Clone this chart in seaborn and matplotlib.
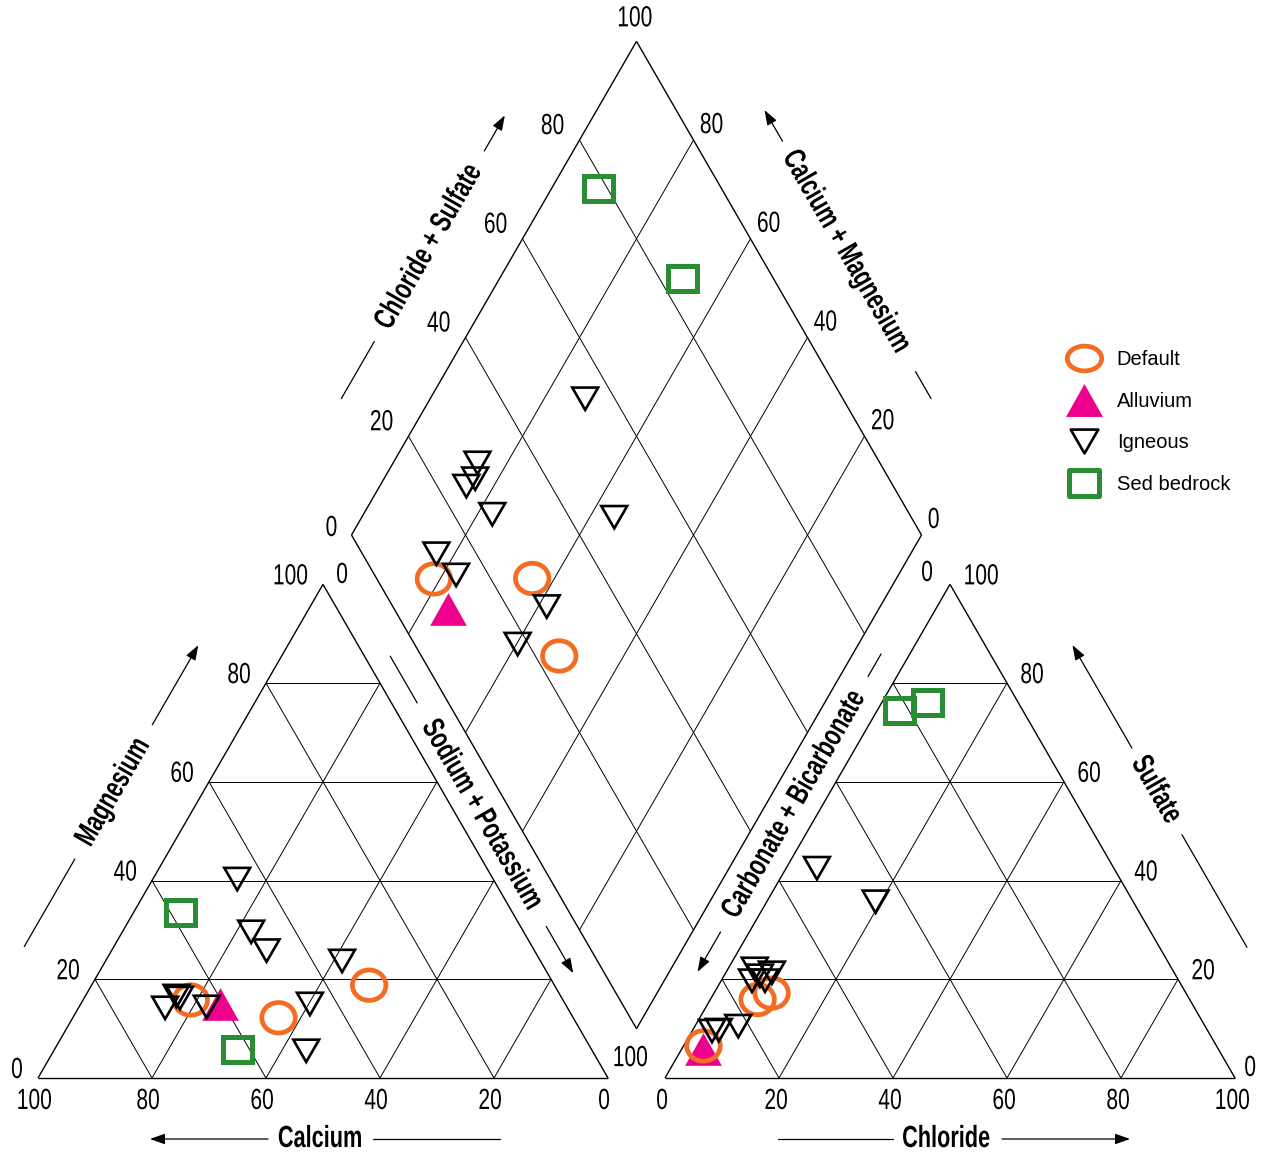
import numpy as np
import pandas as pd
import matplotlib
matplotlib.use("Agg")
import matplotlib.pyplot as plt
from matplotlib.path import Path
from matplotlib.lines import Line2D
from matplotlib.transforms import Affine2D
from matplotlib import patheffects
import seaborn as sns

# ---- water chemistry, percent of milliequivalents ----
groups = (["Default"] * 3 + ["Alluvium"] + ["Igneous"] * 10 + ["Sed bedrock"] * 2)
calcium = [65.3, 51.7, 32.5, 60.5, 47.0, 44.9, 67.4, 70.6, 47.8, 50.2, 67.0, 63.2, 34.8, 44.8, 58.2, 62.1]
magnesium = [15.8, 12.2, 18.8, 15.0, 25.8, 40.3, 16.6, 14.2, 29.6, 5.5, 16.2, 14.4, 23.7, 15.0, 33.6, 5.7]
sodium_potassium = [18.9, 36.1, 48.7, 24.5, 27.2, 14.8, 16.0, 15.2, 22.6, 44.3, 16.8, 22.4, 41.5, 40.2, 8.2, 32.2]
bicarbonate = [90.0, 72.7, 75.8, 90.5, 45.2, 70.6, 72.6, 74.9, 73.2, 52.1, 87.0, 85.7, 73.0, 81.9, 21.6, 15.9]
sulfate = [6.5, 17.2, 15.9, 5.8, 35.7, 21.3, 19.7, 19.7, 22.1, 42.5, 9.5, 9.7, 20.7, 10.5, 74.4, 76.0]
chloride = [3.5, 10.1, 8.3, 3.7, 19.1, 8.1, 7.7, 5.4, 4.7, 5.4, 3.5, 4.6, 6.3, 7.6, 4.0, 8.1]

ticks = [0, 20, 40, 60, 80, 100]
group_order = ["Alluvium", "Default", "Igneous", "Sed bedrock"]
legend_order = ["Default", "Alluvium", "Igneous", "Sed bedrock"]

# ---- style ----
sns.set_theme(style="white", context="notebook")
plt.rcParams["font.family"] = ["Liberation Sans", "DejaVu Sans"]
plt.rcParams["text.color"] = "black"

SCALE = 570.0           # pixels per triangle side
GAP = 0.1               # gap between the two triangles (side fractions)
H = np.sqrt(3) / 2
TICK_FS = 21
TITLE_FS = 22


class Squeeze(patheffects.AbstractPathEffect):
    """Draw text horizontally condensed about one of its edges or its centre."""

    def __init__(self, sx, anchor="center"):
        super().__init__()
        self.sx = sx
        self.anchor = anchor

    def draw_path(self, renderer, gc, tpath, affine, rgbFace=None):
        ext = tpath.get_extents()
        cx = {"left": ext.x0, "right": ext.x1}.get(self.anchor, 0.5 * (ext.x0 + ext.x1))
        squeeze = Affine2D().translate(-cx, 0).scale(self.sx, 1).translate(cx, 0)
        renderer.draw_path(gc, tpath, squeeze + affine, rgbFace)


fig = plt.figure(figsize=(12.61, 11.54), dpi=100)
ax = fig.add_axes([0, 0, 1, 1])
ax.set_xlim(-38 / SCALE, 1223 / SCALE)
ax.set_ylim(-76 / SCALE, 1078 / SCALE)
ax.axis("off")

# ---- geometry ----
X0R = 1 + GAP                                  # left corner of anion triangle
B = np.array([1 + GAP / 2, GAP * H])           # bottom of diamond
L = B + np.array([-0.5, H])
R = B + np.array([0.5, H])
T = B + np.array([0, 2 * H])
UP_R = np.array([0.5, H])
DN_R = np.array([0.5, -H])


def px(dx, dy):
    """Screen-pixel offset (y down) to data offset."""
    return np.array([dx, -dy]) / SCALE


def seg(p, q, lw=0.7):
    ax.plot([p[0], q[0]], [p[1], q[1]], color="black", lw=lw,
            solid_capstyle="butt", zorder=1)


# triangle outlines and grids
for x0 in (0.0, X0R):
    a, b, c = np.array([x0, 0]), np.array([x0 + 1, 0]), np.array([x0 + 0.5, H])
    for p, q in ((a, b), (b, c), (c, a)):
        seg(p, q, lw=1.0)
    for t in (0.2, 0.4, 0.6, 0.8):
        seg((x0 + t / 2, t * H), (x0 + 1 - t / 2, t * H))
        seg((x0 + t, 0), (x0 + t + (1 - t) / 2, (1 - t) * H))
        seg((x0 + 1 - t, 0), (x0 + (1 - t) / 2, (1 - t) * H))

# diamond outline and grid
for p, q in ((L, T), (T, R), (R, B), (B, L)):
    seg(p, q, lw=1.0)
for t in (0.2, 0.4, 0.6, 0.8):
    seg(L + t * UP_R, L + t * UP_R + DN_R)
    seg(L + t * DN_R, L + t * DN_R + UP_R)

# ---- sample positions ----
ca = np.array(calcium) / 100
mg = np.array(magnesium) / 100
na = np.array(sodium_potassium) / 100
so4 = np.array(sulfate) / 100
cl = np.array(chloride) / 100
anion = so4 + cl

cat_x, cat_y = na + mg / 2, mg * H
an_x, an_y = X0R + cl + so4 / 2, so4 * H
dia = L[None, :] + na[:, None] * DN_R + anion[:, None] * UP_R

frames = []
for xs, ys in ((cat_x, cat_y), (an_x, an_y), (dia[:, 0], dia[:, 1])):
    frames.append(pd.DataFrame({"x": xs, "y": ys, "group": groups}))
points = pd.concat(frames, ignore_index=True)

# ---- marker shapes ----
ellipse = Path.unit_circle().transformed(Affine2D().scale(1.0, 0.91))
ellipse_leg = Path.unit_circle().transformed(Affine2D().scale(1.0, 0.72))
rect = Path([(-1, -0.86), (1, -0.86), (1, 0.86), (-1, 0.86), (-1, -0.86)],
            [Path.MOVETO, Path.LINETO, Path.LINETO, Path.LINETO, Path.CLOSEPOLY])
rect_leg = Path([(-1, -0.89), (1, -0.89), (1, 0.89), (-1, 0.89), (-1, -0.89)],
                [Path.MOVETO, Path.LINETO, Path.LINETO, Path.LINETO, Path.CLOSEPOLY])
tri_down = Path([(-1, 0.866), (1, 0.866), (0, -0.866), (-1, 0.866)],
                [Path.MOVETO, Path.LINETO, Path.LINETO, Path.CLOSEPOLY])
tri_up = Path([(-1, -0.89), (1, -0.89), (0, 0.89), (-1, -0.89)],
              [Path.MOVETO, Path.LINETO, Path.LINETO, Path.CLOSEPOLY])

ORANGE, MAGENTA, GREEN = "#F26D21", "#EC008C", "#2B8C36"
styles = {
    "Default": dict(marker=ellipse, size=24.1, face="none", edge=ORANGE, lw=3.4,
                    leg_marker=ellipse_leg, leg_size=24.8),
    "Alluvium": dict(marker=tri_up, size=26.4, face=MAGENTA, edge=MAGENTA, lw=0.0,
                     leg_marker=tri_up, leg_size=26.6),
    "Igneous": dict(marker=tri_down, size=18.6, face="none", edge="black", lw=1.9,
                    leg_marker=tri_down, leg_size=19.8),
    "Sed bedrock": dict(marker=rect, size=20.9, face="none", edge=GREEN, lw=3.6,
                        leg_marker=rect_leg, leg_size=21.6),
}

for z, g in enumerate(group_order):
    st = styles[g]
    sub = points[points["group"] == g]
    sns.scatterplot(data=sub, x="x", y="y", ax=ax, marker=st["marker"],
                    s=st["size"] ** 2, color=st["edge"], facecolor=st["face"],
                    edgecolor=st["edge"], linewidth=st["lw"], joinstyle="miter",
                    legend=False, zorder=3 + z)
ax.set_xlabel("")
ax.set_ylabel("")


# ---- tick labels ----
def label(pt, off, s, ha="center"):
    p = np.asarray(pt, dtype=float) + px(*off)
    ax.text(p[0], p[1], s, ha=ha, va="center", fontsize=TICK_FS, color="black",
            path_effects=[Squeeze(0.72, ha)])


for v in ticks:
    f = v / 100
    label((1 - f, 0), (-4, 23), str(v))                       # calcium
    label((f / 2, f * H), (-15, -8), str(v), ha="right")        # magnesium
    label((X0R + f, 0), (-3, 23), str(v))                     # chloride
    label((X0R + 1 - f / 2, f * H), (9, -10) if v == 0 else (13, -8),
          str(v), ha="left")                                  # sulfate
for v in ticks[:-1]:
    f = v / 100
    label(L + f * UP_R, (-14, -7) if v == 0 else (-15, -14), str(v), ha="right")
    label(R + f * np.array([-0.5, H]), (6, -15), str(v), ha="left")
label(T, (-2, -23), "100")
label(L, (-9.5, 40), "0")
label(R, (5.5, 38), "0")
label(B, (-6.5, 29.5), "100")


# ---- axis titles with guide lines and arrows ----
def axis_title(center, angle, text, back, fwd, arrow_back):
    d = np.array([np.cos(np.radians(angle)), np.sin(np.radians(angle))])
    ax.text(center[0], center[1], text, rotation=angle, rotation_mode="anchor",
            ha="center", va="center", fontsize=TITLE_FS, fontweight="bold",
            color="black", path_effects=[Squeeze(0.71)])
    for sign, (g0, g1), is_arrow in ((-1, back, arrow_back), (1, fwd, not arrow_back)):
        p = center + sign * d * g0 / SCALE
        q = center + sign * d * g1 / SCALE
        if is_arrow:
            ax.annotate("", xy=q, xytext=p,
                        arrowprops=dict(arrowstyle="-|>,head_length=0.45,head_width=0.16",
                                        color="black", lw=0.9, shrinkA=0, shrinkB=0,
                                        mutation_scale=20))
        else:
            ax.plot([p[0], q[0]], [p[1], q[1]], color="black", lw=0.9)


N_LEFT = np.array([-H, 0.5])     # outward normal of an up-right edge
N_RIGHT = np.array([H, 0.5])     # outward normal of a down-right edge

axis_title(np.array([0.25, H / 2]) + N_LEFT * 77.6 / SCALE, 60, "Magnesium",
           (77, 178), (78, 170), arrow_back=False)
axis_title(np.array([0.5, 0]) + px(-3, 61), 0, "Calcium",
           (52, 170), (53, 180), arrow_back=True)
axis_title(np.array([0.75, H / 2]) + N_RIGHT * 22.3 / SCALE - DN_R * 6.2 / SCALE, -60,
           "Sodium + Potassium", (129, 183), (129, 183), arrow_back=False)
axis_title(np.array([X0R + 0.5, 0]) + px(-4, 61), 0, "Chloride",
           (53, 168), (56, 184), arrow_back=False)
axis_title(np.array([X0R + 0.75, H / 2]) + N_RIGHT * 75.7 / SCALE - DN_R * 4.2 / SCALE, -60,
           "Sulfate", (48, 167), (52, 182), arrow_back=True)
axis_title(np.array([X0R + 0.25, H / 2]) + N_LEFT * 24.9 / SCALE + UP_R * 16.2 / SCALE, 60,
           "Carbonate + Bicarbonate", (147, 193), (148, 174), arrow_back=True)
axis_title(L + 0.5 * UP_R + N_LEFT * 77 / SCALE + UP_R * 3 / SCALE, 60,
           "Chloride + Sulfate", (109, 175), (111, 152), arrow_back=False)
axis_title(T + 0.5 * DN_R + N_RIGHT * 76.5 / SCALE + DN_R * 1.5 / SCALE, -60,
           "Calcium + Magnesium", (127, 163), (139, 170), arrow_back=True)

# ---- legend ----
handles = []
for g in legend_order:
    st = styles[g]
    handles.append(Line2D([], [], linestyle="none", marker=st["leg_marker"],
                          markersize=st["leg_size"], markerfacecolor=st["face"],
                          markeredgecolor=st["edge"], markeredgewidth=st["lw"],
                          label=g))
fig.legend(handles=handles, loc="upper left",
           bbox_to_anchor=(1064 / 1261, 1 - 350 / 1154), bbox_transform=fig.transFigure,
           frameon=False, prop={"family": "Liberation Sans", "size": 14.5},
           labelcolor="black", handlelength=2.0, handletextpad=0.62, labelspacing=1.12,
           borderpad=0, borderaxespad=0)

fig.savefig("out.png", dpi=100)
